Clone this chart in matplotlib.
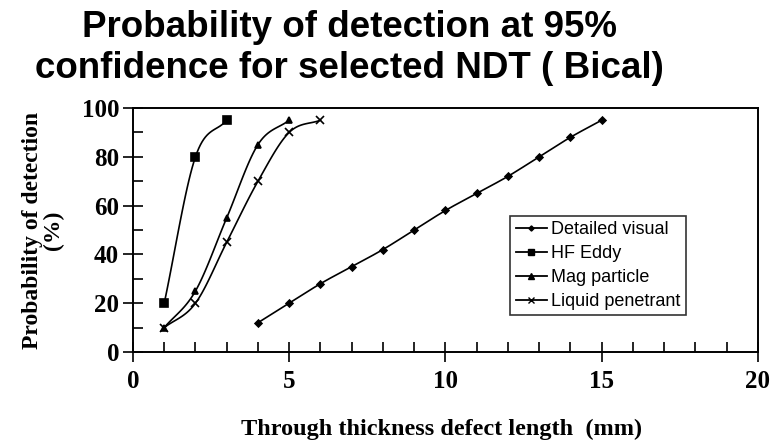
import numpy as np
import matplotlib
matplotlib.use('Agg')
import matplotlib.pyplot as plt
from matplotlib.ticker import MultipleLocator

# Data
visual_x = [4, 5, 6, 7, 8, 9, 10, 11, 12, 13, 14, 15]
visual_y = [12, 20, 28, 35, 42, 50, 58, 65, 72, 80, 88, 95]
eddy_x = [1, 2, 3]
eddy_y = [20, 80, 95]
mag_x = [1, 2, 3, 4, 5]
mag_y = [10, 25, 55, 85, 95]
liquid_x = [1, 2, 3, 4, 5, 6]
liquid_y = [10, 20, 45, 70, 90, 95]


# Catmull-Rom smoothing, like the smoothed lines of a spreadsheet chart
def smooth(x, y, n=20):
    p = np.column_stack([x, y]).astype(float)
    if len(p) < 3:
        return p[:, 0], p[:, 1]
    p = np.vstack([2 * p[0] - p[1], p, 2 * p[-1] - p[-2]])
    out = []
    t = np.linspace(0, 1, n)[:, None]
    for i in range(1, len(p) - 2):
        p0, p1, p2, p3 = p[i - 1], p[i], p[i + 1], p[i + 2]
        seg = 0.5 * ((2 * p1) + (-p0 + p2) * t + (2 * p0 - 5 * p1 + 4 * p2 - p3) * t ** 2
                     + (-p0 + 3 * p1 - 3 * p2 + p3) * t ** 3)
        out.append(seg)
    out = np.vstack(out)
    return out[:, 0], out[:, 1]


fig = plt.figure(figsize=(7.74, 4.44), dpi=100)
ax = fig.add_axes([0.1718, 0.2072, 0.8075, 0.5496])

series = [
    (visual_x, visual_y, 'D', 3.5, 'Detailed visual'),
    (eddy_x, eddy_y, 's', 6, 'HF Eddy'),
    (mag_x, mag_y, '^', 5, 'Mag particle'),
    (liquid_x, liquid_y, 'x', 6, 'Liquid penetrant'),
]
for x, y, m, ms, lab in series:
    sx, sy = smooth(x, y)
    ax.plot(sx, sy, color='black', lw=1.2)
    ax.plot(x, y, linestyle='none', marker=m, ms=ms, color='black', mew=1.2, clip_on=False)
    ax.plot([], [], color='black', lw=1.3, marker=m, ms=ms * 0.75, mew=1, label=lab)

ax.set_xlim(0, 20)
ax.set_ylim(0, 100)
ax.xaxis.set_major_locator(MultipleLocator(5))
ax.xaxis.set_minor_locator(MultipleLocator(1))
ax.yaxis.set_major_locator(MultipleLocator(20))
ax.yaxis.set_minor_locator(MultipleLocator(10))
ax.tick_params(which='major', direction='inout', length=14, width=1.2)
ax.tick_params(which='minor', direction='in', length=7, width=1.2)
ax.tick_params(axis='x', which='major', pad=6)
ax.tick_params(axis='y', which='major', pad=3)
for s in ax.spines.values():
    s.set_visible(True)
    s.set_linewidth(1.4)
    s.set_color('black')

for lbl in ax.get_xticklabels() + ax.get_yticklabels():
    lbl.set_fontfamily('Liberation Serif')
    lbl.set_fontweight('bold')
    lbl.set_fontsize(18)

ax.set_xlabel('Through thickness defect length  (mm)', family='Liberation Serif',
              fontweight='bold', fontsize=17.5)
ax.xaxis.set_label_coords(0.494, -0.275)
ax.set_ylabel('Probability of detection\n(%)', family='Liberation Serif',
              fontweight='bold', fontsize=17, linespacing=1.0)
ax.yaxis.set_label_coords(-0.11, 0.5)

leg = ax.legend(loc='lower left', bbox_to_anchor=(0.604, 0.15), frameon=True,
                fancybox=False, edgecolor='black', handlelength=1.7,
                handletextpad=0.25, borderpad=0.3, labelspacing=0.38,
                borderaxespad=0, prop={'family': 'Liberation Sans', 'size': 13})
leg.get_frame().set_linewidth(1.2)

fig.text(0.451, 0.978, 'Probability of detection at 95%\nconfidence for selected NDT ( Bical)',
         ha='center', va='top', family='Liberation Sans', fontweight='bold',
         fontsize=26.5, linespacing=1.22)

fig.savefig('out.png', dpi=100)
